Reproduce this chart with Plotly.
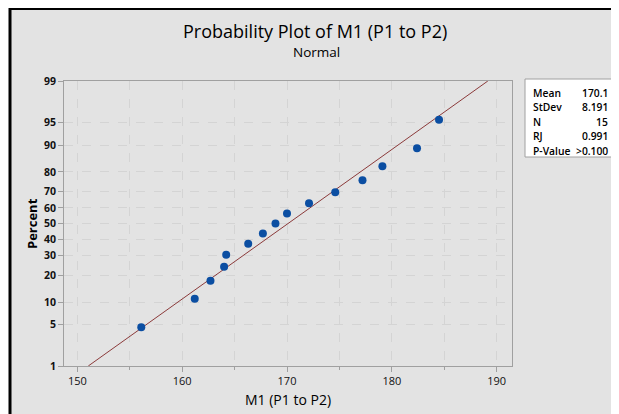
import plotly.graph_objects as go
from statistics import NormalDist

# ---- data ----
m1_values = [156.1, 161.2, 162.7, 164.0, 164.2, 166.3, 167.7, 168.9,
             170.0, 172.1, 174.6, 177.2, 179.1, 182.4, 184.5]
percent_values = [4.5, 11.0, 17.5, 24.0, 30.5, 37.0, 43.5, 50.0,
                  56.5, 63.0, 69.5, 76.0, 82.5, 89.0, 95.5]
y_tick_percents = [1, 5, 10, 20, 30, 40, 50, 60, 70, 80, 90, 95, 99]
x_tick_values = [150, 160, 170, 180, 190]
stat_labels = ["Mean", "StDev", "N", "RJ", "P-Value"]
stat_values = ["170.1", "8.191", "15", "0.991", ">0.100"]
fit_mean = 170.1
fit_stdev = 8.191

nd = NormalDist()
def z(p):
    return nd.inv_cdf(p / 100.0)

y_pts = [z(p) for p in percent_values]
y_lo, y_hi = z(1), z(99)
fit_x = [fit_mean + fit_stdev * y_lo, fit_mean + fit_stdev * y_hi]
fit_y = [y_lo, y_hi]

FONT = "Open Sans"
fig = go.Figure()
fig.add_trace(go.Scatter(x=fit_x, y=fit_y, mode="lines",
                         line=dict(color="#8B3A3A", width=1), hoverinfo="skip"))
fig.add_trace(go.Scatter(x=m1_values, y=y_pts, mode="markers",
                         marker=dict(color="#0B4EA2", size=8)))

OFF = 8  # page body margin
W, H = 619 - OFF, 414 - OFF
# plot area in reference page pixels
PL, PR, PT, PB = 64, 512, 81, 366
L, R, T, B = PL - OFF, W - (PR - OFF), PT - OFF, H - (PB - OFF)
pw, ph = PR - PL, PB - PT
def px(x):   # reference page x -> paper
    return (x - PL) / pw
def py(y):   # reference page y -> paper
    return (PB - y) / ph

shapes = [
    dict(type="rect", xref="paper", yref="paper", layer="below",
         x0=px(10), x1=px(660), y0=py(460), y1=py(8.5),
         fillcolor="#E3E3E3", line=dict(color="black", width=3)),
    dict(type="rect", xref="paper", yref="paper", layer="below",
         x0=px(525), x1=px(615), y0=py(157), y1=py(79),
         fillcolor="white", line=dict(color="#A0A0A0", width=1)),
]

annotations = []
for i, (lab, val) in enumerate(zip(stat_labels, stat_values)):
    yy = py(93 + i * 14.4)
    annotations.append(dict(xref="paper", yref="paper", x=px(531), y=yy, text=lab,
                            showarrow=False, xanchor="left", yanchor="middle",
                            font=dict(family=FONT, size=10.3, color="#000", weight=600)))
    annotations.append(dict(xref="paper", yref="paper", x=px(610), y=yy, text=val,
                            showarrow=False, xanchor="right", yanchor="middle",
                            font=dict(family=FONT, size=10.3, color="#000", weight=600)))
annotations.append(dict(xref="paper", yref="paper", x=px(315), y=py(31),
                        text="Probability Plot of M1 (P1 to P2)", showarrow=False,
                        xanchor="center", yanchor="middle",
                        font=dict(family=FONT, size=18, color="#000", weight=500)))
annotations.append(dict(xref="paper", yref="paper", x=px(316), y=py(52),
                        text="Normal", showarrow=False,
                        xanchor="center", yanchor="middle",
                        font=dict(family=FONT, size=13.5, color="#000", weight=500)))
annotations.append(dict(xref="paper", yref="paper", x=px(32), y=py(224),
                        text="<b>Percent</b>", showarrow=False, textangle=-90,
                        xanchor="center", yanchor="middle",
                        font=dict(family=FONT, size=13, color="#000")))
annotations.append(dict(xref="paper", yref="paper", x=px(288), y=py(399),
                        text="M1 (P1 to P2)", showarrow=False,
                        xanchor="center", yanchor="middle",
                        font=dict(family=FONT, size=14, color="#000", weight=500)))

fig.update_layout(
    width=W, height=H, margin=dict(l=L, r=R, t=T, b=B, pad=0),
    paper_bgcolor="white", plot_bgcolor="white",
    showlegend=False, shapes=shapes, annotations=annotations,
    xaxis=dict(range=[148.73, 191.46], tickvals=x_tick_values,
               ticks="outside", ticklen=5, tickcolor="#A0A0A0",
               showline=True, linecolor="#A0A0A0", linewidth=1, mirror=True,
               showgrid=False, zeroline=False,
               tickfont=dict(family=FONT, size=11, color="#111", weight=500),
               minor=dict(dtick=5, tick0=150, ticks="outside", ticklen=3,
                          tickcolor="#A0A0A0", showgrid=True,
                          gridcolor="#D4D4D4", griddash="dash", gridwidth=1)),
    yaxis=dict(range=[y_lo, y_hi], tickvals=[z(p) for p in y_tick_percents],
               ticktext=["<b>%d</b>" % p for p in y_tick_percents],
               ticks="outside", ticklen=5, tickcolor="#A0A0A0",
               showline=True, linecolor="#A0A0A0", linewidth=1, mirror=True,
               showgrid=True, gridcolor="#D4D4D4", griddash="dash", gridwidth=1,
               zeroline=False,
               tickfont=dict(family=FONT, size=10.5, color="#111")),
)

fig.write_html("out.html")
